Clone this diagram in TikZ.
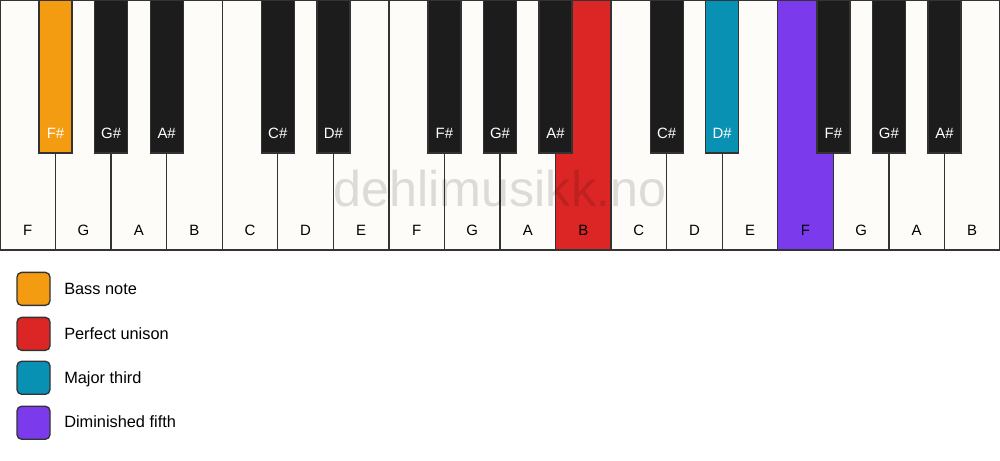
\documentclass[tikz,border=0pt]{standalone}
\usepackage{fontspec}
\setmainfont{Liberation Sans}
\definecolor{keywhite}{HTML}{FDFCF9}
\definecolor{keyblack}{HTML}{1C1C1C}
\definecolor{keyline}{HTML}{333333}
\definecolor{bassorange}{HTML}{F39C12}
\definecolor{unisonred}{HTML}{DC2626}
\definecolor{thirdteal}{HTML}{0891B2}
\definecolor{fifthpurple}{HTML}{7C3AED}
\begin{document}
\begin{tikzpicture}[x=1.47cm, y=1.47cm,
    wkey/.style={fill=keywhite, draw=keyline, line width=1pt},
    bkey/.style={fill=keyblack, draw=keyline, line width=1pt},
    wlab/.style={font=\fontsize{11.25}{13}\selectfont, text=black},
    blab/.style={font=\fontsize{11.25}{13}\selectfont, text=white},
    swatch/.style={draw=keyline, line width=1pt, rounded corners=3.5pt},
    legtext/.style={font=\fontsize{12.3}{14}\selectfont, anchor=base west, inner sep=0pt}]
            \useasboundingbox (0,-3.798) rectangle (18,4.5);

            % white keys
            \filldraw[wkey] (0,0) rectangle (1,4.5);
            \filldraw[wkey] (1,0) rectangle (2,4.5);
            \filldraw[wkey] (2,0) rectangle (3,4.5);
            \filldraw[wkey] (3,0) rectangle (4,4.5);
            \filldraw[wkey] (4,0) rectangle (5,4.5);
            \filldraw[wkey] (5,0) rectangle (6,4.5);
            \filldraw[wkey] (6,0) rectangle (7,4.5);
            \filldraw[wkey] (7,0) rectangle (8,4.5);
            \filldraw[wkey] (8,0) rectangle (9,4.5);
            \filldraw[wkey] (9,0) rectangle (10,4.5);
            \filldraw[wkey, fill=unisonred] (10,0) rectangle (11,4.5);
            \filldraw[wkey] (11,0) rectangle (12,4.5);
            \filldraw[wkey] (12,0) rectangle (13,4.5);
            \filldraw[wkey] (13,0) rectangle (14,4.5);
            \filldraw[wkey, fill=fifthpurple] (14,0) rectangle (15,4.5);
            \filldraw[wkey] (15,0) rectangle (16,4.5);
            \filldraw[wkey] (16,0) rectangle (17,4.5);
            \filldraw[wkey] (17,0) rectangle (18,4.5);

            \node[wlab] (whF1) at (0.5,0.36) {F};
            \node[wlab] (whG1) at (1.5,0.36) {G};
            \node[wlab] (whA1) at (2.5,0.36) {A};
            \node[wlab] (whB1) at (3.5,0.36) {B};
            \node[wlab] (whC1) at (4.5,0.36) {C};
            \node[wlab] (whD1) at (5.5,0.36) {D};
            \node[wlab] (whE1) at (6.5,0.36) {E};
            \node[wlab] (whF2) at (7.5,0.36) {F};
            \node[wlab] (whG2) at (8.5,0.36) {G};
            \node[wlab] (whA2) at (9.5,0.36) {A};
            \node[wlab] (whB2) at (10.5,0.36) {B};
            \node[wlab] (whC2) at (11.5,0.36) {C};
            \node[wlab] (whD2) at (12.5,0.36) {D};
            \node[wlab] (whE2) at (13.5,0.36) {E};
            \node[wlab] (whF3) at (14.5,0.36) {F};
            \node[wlab] (whG3) at (15.5,0.36) {G};
            \node[wlab] (whA3) at (16.5,0.36) {A};
            \node[wlab] (whB3) at (17.5,0.36) {B};

            % black keys
            \filldraw[bkey, fill=bassorange] (0.703,1.746) rectangle (1.297,4.5);
            \filldraw[bkey] (1.703,1.746) rectangle (2.297,4.5);
            \filldraw[bkey] (2.703,1.746) rectangle (3.297,4.5);
            \filldraw[bkey] (4.703,1.746) rectangle (5.297,4.5);
            \filldraw[bkey] (5.703,1.746) rectangle (6.297,4.5);
            \filldraw[bkey] (7.703,1.746) rectangle (8.297,4.5);
            \filldraw[bkey] (8.703,1.746) rectangle (9.297,4.5);
            \filldraw[bkey] (9.703,1.746) rectangle (10.297,4.5);
            \filldraw[bkey] (11.703,1.746) rectangle (12.297,4.5);
            \filldraw[bkey, fill=thirdteal] (12.703,1.746) rectangle (13.297,4.5);
            \filldraw[bkey] (14.703,1.746) rectangle (15.297,4.5);
            \filldraw[bkey] (15.703,1.746) rectangle (16.297,4.5);
            \filldraw[bkey] (16.703,1.746) rectangle (17.297,4.5);

            \node[blab] (bkFs1) at (1,2.106) {F\#};
            \node[blab] (bkGs1) at (2,2.106) {G\#};
            \node[blab] (bkAs1) at (3,2.106) {A\#};
            \node[blab] (bkCs1) at (5,2.106) {C\#};
            \node[blab] (bkDs1) at (6,2.106) {D\#};
            \node[blab] (bkFs2) at (8,2.106) {F\#};
            \node[blab] (bkGs2) at (9,2.106) {G\#};
            \node[blab] (bkAs2) at (10,2.106) {A\#};
            \node[blab] (bkCs2) at (12,2.106) {C\#};
            \node[blab] (bkDs2) at (13,2.106) {D\#};
            \node[blab] (bkFs3) at (15,2.106) {F\#};
            \node[blab] (bkGs3) at (16,2.106) {G\#};
            \node[blab] (bkAs3) at (17,2.106) {A\#};

            % watermark
            \node[text=black, opacity=0.13, anchor=base, inner sep=0pt, font=\fontsize{37.8}{44}\selectfont] (mark) at (9,0.774) {dehlimusikk.no};

            \draw[keyline, line width=1pt] (0,0) rectangle (18,4.5);

            % legend
            \filldraw[swatch, fill=bassorange] (0.306,-0.403) rectangle (0.9,-0.997);
            \filldraw[swatch, fill=unisonred] (0.306,-1.213) rectangle (0.9,-1.807);
            \filldraw[swatch, fill=thirdteal] (0.306,-2.003) rectangle (0.9,-2.597);
            \filldraw[swatch, fill=fifthpurple] (0.306,-2.813) rectangle (0.9,-3.407);
            \node[legtext] (bass) at (1.152,-0.810) {Bass note};
            \node[legtext] (unison) at (1.152,-1.620) {Perfect unison};
            \node[legtext] (third) at (1.152,-2.412) {Major third};
            \node[legtext] (fifth) at (1.152,-3.204) {Diminished fifth};
\end{tikzpicture}
\end{document}
